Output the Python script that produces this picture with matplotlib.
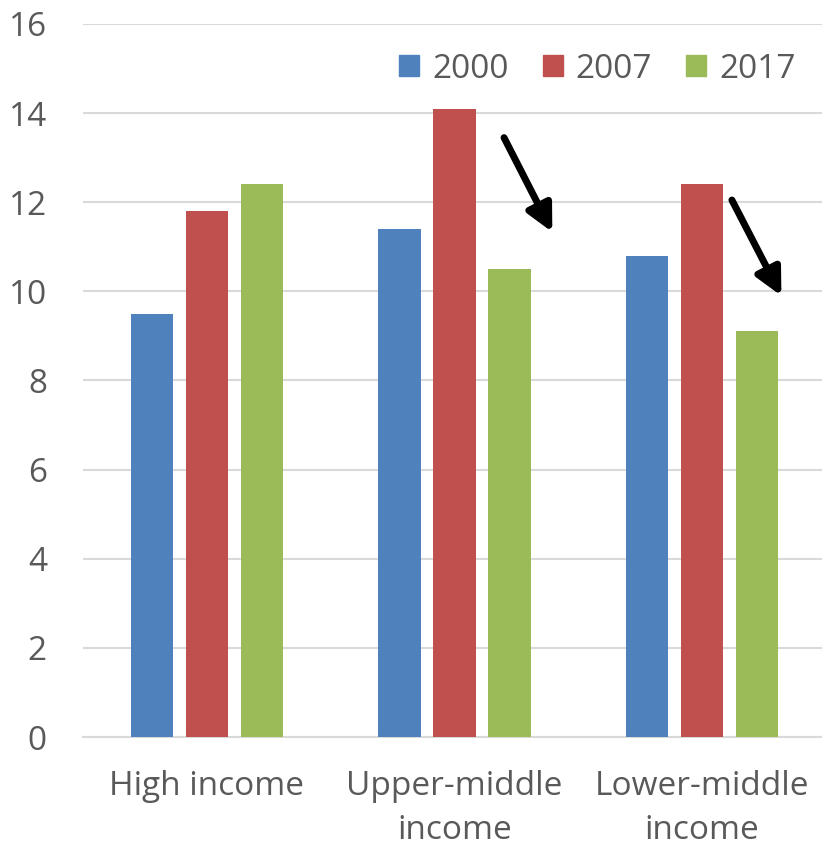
import numpy as np
import matplotlib
matplotlib.use("Agg")
import matplotlib.pyplot as plt
from matplotlib.patches import Patch

categories = ["High income", "Upper-middle\nincome", "Lower-middle\nincome"]
years = ["2000", "2007", "2017"]
values_2000 = [9.5, 11.4, 10.8]
values_2007 = [11.8, 14.1, 12.4]
values_2017 = [12.4, 10.5, 9.1]
colors = ["#4F81BD", "#C0504D", "#9BBB59"]

# downward arrows over the two middle-income groups: (x_start, y_start, x_end, y_end)
arrow_1 = (1.20, 13.45, 1.395, 11.33)
arrow_2 = (2.12, 12.05, 2.32, 9.90)

plt.rcParams["font.family"] = ["Open Sans", "DejaVu Sans"]
text_color = "#595959"

fig = plt.figure(figsize=(8.22, 8.47), dpi=100)
ax = fig.add_axes([83 / 822, 110 / 847, 743 / 822, 713 / 847])

x = np.arange(len(categories))
step = 0.222
width = 0.17
series = [values_2000, values_2007, values_2017]
for i, vals in enumerate(series):
    ax.bar(x + (i - 1) * step, vals, width, color=colors[i], zorder=3)

ax.set_xlim(-0.5, 2.5)
ax.set_ylim(0, 16)
ax.set_yticks(range(0, 17, 2))
ax.yaxis.grid(True, color="#D9D9D9", linewidth=1.5, zorder=0)
ax.set_axisbelow(True)
for side in ["top", "right", "left"]:
    ax.spines[side].set_visible(False)
ax.spines["bottom"].set_color("#D9D9D9")
ax.spines["bottom"].set_linewidth(1.5)
ax.tick_params(axis="both", length=0, labelsize=24, colors=text_color)
ax.tick_params(axis="y", pad=26)
ax.tick_params(axis="x", pad=24)
ax.set_xticks(x)
ax.set_xticklabels(categories, linespacing=1.42)

for a in (arrow_1, arrow_2):
    ax.annotate("", xy=(a[2], a[3]), xytext=(a[0], a[1]),
                arrowprops=dict(arrowstyle="-|>,head_length=1.6,head_width=0.8",
                                color="black", lw=5, shrinkA=0, shrinkB=0))

handles = [Patch(color=c) for c in colors]
ax.legend(handles, years, loc="upper right", bbox_to_anchor=(0.999, 1.002),
          ncol=3, frameon=False, fontsize=24, labelcolor=text_color,
          handlelength=0.6, handleheight=0.6, handletextpad=0.4,
          columnspacing=1.0)

fig.savefig("out.png", dpi=100)
